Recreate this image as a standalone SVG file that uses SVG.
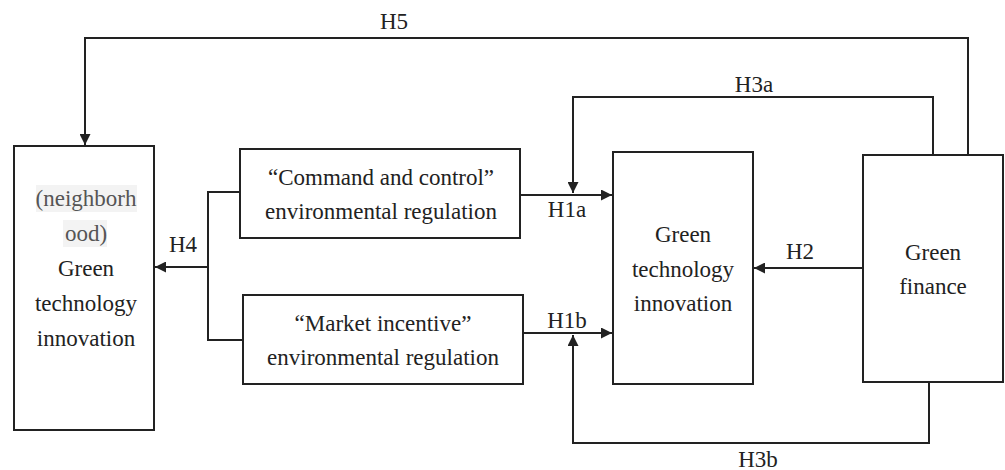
<svg xmlns="http://www.w3.org/2000/svg" width="1005" height="470" viewBox="0 0 1005 470">
  <style>
    .box { fill: #ffffff; stroke: #222222; stroke-width: 2; }
    .lbl { font-family: 'Liberation Serif', serif; font-size: 23px; fill: #222222; text-anchor: middle; }
    .dim { fill: #555555; }
    .wire { fill: none; stroke: #222222; stroke-width: 2; }
    .arr { marker-end: url(#head); }
  </style>
  <defs>
    <marker id="head" viewBox="0 0 10 10" refX="10" refY="5" markerWidth="11" markerHeight="11" markerUnits="userSpaceOnUse" orient="auto">
      <path d="M0,0 L10,5 L0,10 Z" fill="#222222"/>
    </marker>
  </defs>

  <!-- connectors -->
  <g id="connectors">
    <!-- H5: green finance to neighbouring innovation -->
    <path class="wire arr" d="M968,155 V38 H85 V145"/>
    <!-- H3a: green finance into H1a -->
    <path class="wire arr" d="M933,155 V97 H573 V193"/>
    <!-- H3b: green finance into H1b -->
    <path class="wire arr" d="M929,382 V443 H573 V335"/>
    <!-- H1a / H1b -->
    <path class="wire arr" d="M520,195 H612"/>
    <path class="wire arr" d="M523,333 H612"/>
    <!-- H2 -->
    <path class="wire arr" d="M863,268 H754"/>
    <!-- H4 -->
    <path class="wire" d="M240,192 H208 V340 H243"/>
    <path class="wire arr" d="M208,267 H155"/>
    <text class="lbl" font-family="Liberation Serif" x="394" y="29">H5</text>
    <text class="lbl" font-family="Liberation Serif" x="754" y="92">H3a</text>
    <text class="lbl" font-family="Liberation Serif" x="758" y="467">H3b</text>
    <text class="lbl" font-family="Liberation Serif" x="567" y="217">H1a</text>
    <text class="lbl" font-family="Liberation Serif" x="567" y="328">H1b</text>
    <text class="lbl" font-family="Liberation Serif" x="800" y="259">H2</text>
    <text class="lbl" font-family="Liberation Serif" x="183" y="252">H4</text>
  </g>

  <!-- neighbouring green technology innovation -->
  <g id="node-neighbor">
    <rect class="box" x="14" y="146" width="140" height="284"/>
    <rect x="36" y="185" width="101" height="27" fill="#f3f3f3"/>
    <rect x="63" y="220" width="44" height="27" fill="#f3f3f3"/>
    <text class="lbl dim" font-family="Liberation Serif" x="86" y="206">(neighborh</text>
    <text class="lbl dim" font-family="Liberation Serif" x="86" y="241">ood)</text>
    <text class="lbl" font-family="Liberation Serif" x="86" y="276">Green</text>
    <text class="lbl" font-family="Liberation Serif" x="86" y="311">technology</text>
    <text class="lbl" font-family="Liberation Serif" x="86" y="346">innovation</text>
  </g>

  <!-- command and control regulation -->
  <g id="node-command">
    <rect class="box" x="240" y="149" width="280" height="89"/>
    <text class="lbl" font-family="Liberation Serif" x="381" y="185">&#8220;Command and control&#8221;</text>
    <text class="lbl" font-family="Liberation Serif" x="381" y="219">environmental regulation</text>
  </g>

  <!-- market incentive regulation -->
  <g id="node-market">
    <rect class="box" x="243" y="295" width="280" height="89"/>
    <text class="lbl" font-family="Liberation Serif" x="383" y="331">&#8220;Market incentive&#8221;</text>
    <text class="lbl" font-family="Liberation Serif" x="383" y="365">environmental regulation</text>
  </g>

  <!-- local green technology innovation -->
  <g id="node-gti">
    <rect class="box" x="613" y="152" width="140" height="232"/>
    <text class="lbl" font-family="Liberation Serif" x="683" y="242">Green</text>
    <text class="lbl" font-family="Liberation Serif" x="683" y="277">technology</text>
    <text class="lbl" font-family="Liberation Serif" x="683" y="311">innovation</text>
  </g>

  <!-- green finance -->
  <g id="node-finance">
    <rect class="box" x="863" y="155" width="140" height="227"/>
    <text class="lbl" font-family="Liberation Serif" x="933" y="260">Green</text>
    <text class="lbl" font-family="Liberation Serif" x="933" y="294">finance</text>
  </g>
</svg>
